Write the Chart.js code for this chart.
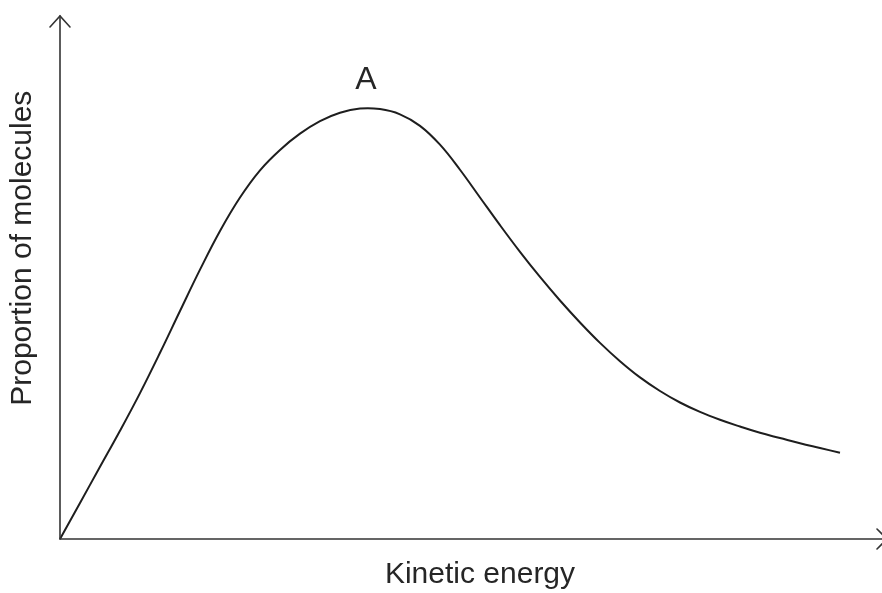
<!DOCTYPE html>
<html>
<head>
<meta charset="utf-8">
<script src="https://cdn.jsdelivr.net/npm/chart.js@4"></script>
<style>
  html, body { margin: 0; padding: 0; background: #fff; }
  #wrap { width: 882px; height: 593px; position: relative; }
</style>
</head>
<body>
<div id="wrap"><canvas id="mbChart"></canvas></div>
<script>
// kinetic energy (arbitrary units, axis runs 0..41)
const energy = [0, 1, 2, 3, 4, 5, 6, 7, 8, 9, 10, 11, 12, 13, 14, 15, 16, 17, 18, 19,
  20, 21, 22, 23, 24, 25, 26, 27, 28, 29, 30, 31, 32, 33, 34, 35, 36, 37, 38, 39];
// proportion of molecules (arbitrary units, axis runs 0..100)
const proportion = [0, 6.9, 13.8, 20.7, 27.9, 35.6, 43.6, 51.5, 58.9, 65.3,
  70.5, 74.4, 77.5, 79.9, 81.5, 82.3, 82.2, 81.2, 79.0, 75.4,
  70.6, 65.3, 60.0, 54.9, 50.1, 45.6, 41.4, 37.5, 34.0, 30.9,
  28.3, 26.1, 24.3, 22.8, 21.5, 20.3, 19.3, 18.3, 17.4, 16.5];
const xTitle = 'Kinetic energy';
const yTitle = 'Proportion of molecules';
const peakLabel = 'A';

const FONT = '"Liberation Sans", Arial, sans-serif';

// axes with arrow heads, axis titles and the peak label
const axesPlugin = {
  id: 'axesPlugin',
  afterDraw(chart) {
    const ctx = chart.ctx;
    const a = chart.chartArea;
    const ys = chart.scales.y;
    ctx.save();
    ctx.strokeStyle = '#333';
    ctx.lineWidth = 1.6;
    ctx.lineCap = 'round';
    // y axis
    ctx.beginPath();
    ctx.moveTo(a.left, a.bottom);
    ctx.lineTo(a.left, a.top);
    ctx.stroke();
    ctx.beginPath();
    ctx.moveTo(a.left - 10, a.top + 11);
    ctx.lineTo(a.left, a.top);
    ctx.lineTo(a.left + 10, a.top + 11);
    ctx.stroke();
    // x axis
    ctx.beginPath();
    ctx.moveTo(a.left, a.bottom);
    ctx.lineTo(a.right + 6, a.bottom);
    ctx.stroke();
    ctx.beginPath();
    ctx.moveTo(a.right - 3, a.bottom - 10);
    ctx.lineTo(a.right + 7, a.bottom);
    ctx.lineTo(a.right - 3, a.bottom + 10);
    ctx.stroke();

    ctx.fillStyle = '#262626';
    ctx.font = '30px ' + FONT;
    ctx.textAlign = 'center';
    ctx.textBaseline = 'alphabetic';
    ctx.fillText(xTitle, (a.left + a.right) / 2 + 10, a.bottom + 44);

    ctx.save();
    ctx.translate(a.left - 37, ys.getPixelForValue(55.6));
    ctx.rotate(-Math.PI / 2);
    ctx.textBaseline = 'middle';
    ctx.fillText(yTitle, 0, 0);
    ctx.restore();

    // label over the peak of the curve
    const iPeak = proportion.indexOf(Math.max(...proportion));
    const pt = chart.getDatasetMeta(0).data[iPeak];
    ctx.font = '32px ' + FONT;
    ctx.fillText(peakLabel, pt.x + 6, pt.y - 20);
    ctx.restore();
  }
};

new Chart(document.getElementById('mbChart'), {
  type: 'line',
  data: {
    datasets: [{
      data: energy.map((e, i) => ({ x: e, y: proportion[i] })),
      borderColor: '#1e1e1e',
      borderWidth: 2,
      pointRadius: 0,
      fill: false,
      tension: 0.4,
      clip: false
    }]
  },
  options: {
    responsive: true,
    maintainAspectRatio: false,
    animation: false,
    events: [],
    layout: { padding: { left: 60, top: 16, right: 2, bottom: 54 } },
    plugins: { legend: { display: false }, tooltip: { enabled: false } },
    scales: {
      x: { type: 'linear', min: 0, max: 41, display: false },
      y: { type: 'linear', min: 0, max: 100, display: false }
    }
  },
  plugins: [axesPlugin]
});
</script>
</body>
</html>
